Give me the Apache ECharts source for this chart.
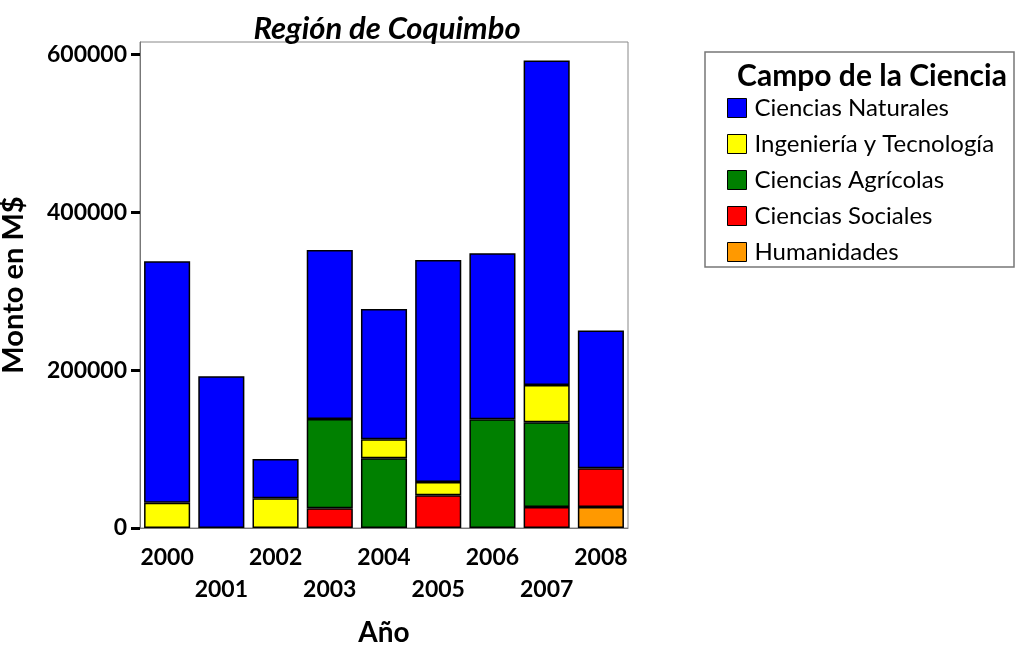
<!DOCTYPE html>
<html>
<head>
<meta charset="utf-8">
<script src="https://cdn.jsdelivr.net/npm/echarts@6/dist/echarts.min.js"></script>
<style>
  html, body { margin: 0; padding: 0; background: #fff; }
  #chart { width: 1016px; height: 646px; }
</style>
</head>
<body>
<div id="chart"></div>
<script>
// años y montos (M$) por campo
const years = ['2000', '2001', '2002', '2003', '2004', '2005', '2006', '2007', '2008']
const humanidades = [0, 0, 0, 0, 0, 0, 0, 0, 26600]
const sociales = [0, 0, 0, 25000, 0, 41400, 0, 26600, 49100]
const agricolas = [0, 0, 0, 113200, 88400, 0, 137800, 107400, 0]
const ingenieria = [32000, 0, 37700, 0, 24100, 16900, 0, 47300, 0]
const naturales = [306000, 192400, 49800, 214300, 165200, 281500, 210500, 411300, 174500]
const yTicks = [0, 200000, 400000, 600000]

const FONT = 'Lato'

const fields = [
  { name: 'Humanidades', data: humanidades, color: '#ff9900' },
  { name: 'Ciencias Sociales', data: sociales, color: '#ff0000' },
  { name: 'Ciencias Agrícolas', data: agricolas, color: '#008000' },
  { name: 'Ingeniería y Tecnología', data: ingenieria, color: '#ffff00' },
  { name: 'Ciencias Naturales', data: naturales, color: '#0000ff' }
]

const chart = echarts.init(document.getElementById('chart'))

chart.setOption({
  animation: false,
  textStyle: { fontFamily: FONT },
  title: [
    {
      text: 'Región de Coquimbo',
      left: 382,
      top: 8,
      textAlign: 'center',
      textStyle: { fontSize: 31, fontWeight: 'bold', fontStyle: 'italic', color: '#000', fontFamily: FONT }
    },
    {
      text: 'Campo de la Ciencia',
      left: 867,
      top: 56,
      textAlign: 'center',
      textStyle: { fontSize: 30, fontWeight: 'bold', color: '#000', fontFamily: FONT }
    }
  ],
  graphic: [
    {
      type: 'rect',
      shape: { x: 705, y: 52, width: 309, height: 215 },
      style: { fill: 'none', stroke: '#777', lineWidth: 1.5 }
    }
  ],
  legend: {
    orient: 'vertical',
    left: 722,
    top: 91,
    itemWidth: 19,
    itemHeight: 19,
    itemGap: 12,
    icon: 'rect',
    data: fields.map(f => f.name).reverse(),
    itemStyle: { borderColor: '#000', borderWidth: 1 },
    textStyle: { fontSize: 24, color: '#000', fontFamily: FONT, padding: [0, 0, 0, 3] }
  },
  grid: {
    left: 140,
    right: 388,
    top: 42,
    bottom: 118,
    outerBoundsMode: 'none',
    containLabel: false,
    show: true,
    borderColor: '#888',
    borderWidth: 1
  },
  xAxis: {
    type: 'category',
    data: years,
    name: 'Año',
    nameLocation: 'middle',
    nameGap: 91,
    nameTextStyle: { fontSize: 28, fontWeight: 'bold', color: '#000' },
    axisLine: { lineStyle: { color: '#777', width: 1 } },
    axisTick: { alignWithLabel: true, length: 9, lineStyle: { color: '#000', width: 3 } },
    axisLabel: {
      interval: 0,
      margin: 14,
      fontSize: 23,
      fontWeight: 'bold',
      color: '#000',
      lineHeight: 32,
      formatter: (v, i) => (i % 2 ? '\n' + v : v)
    }
  },
  yAxis: {
    type: 'value',
    min: 0,
    max: 616000,
    interval: 200000,
    name: 'Monto en M$',
    nameLocation: 'middle',
    nameGap: 112,
    nameTextStyle: { fontSize: 29, fontWeight: 'bold', color: '#000' },
    splitLine: { show: false },
    axisLine: { show: true, lineStyle: { color: '#777', width: 1 } },
    axisTick: { show: true, length: 9, customValues: yTicks, lineStyle: { color: '#000', width: 3 } },
    axisLabel: {
      margin: 13,
      fontSize: 23,
      fontWeight: 'bold',
      color: '#000',
      customValues: yTicks,
      formatter: v => String(v)
    }
  },
  series: fields.map(f => ({
    name: f.name,
    type: 'bar',
    stack: 'total',
    barCategoryGap: '15%',
    data: f.data.map(v => (v ? v : '-')),
    itemStyle: { color: f.color, borderColor: '#000', borderWidth: 1.5 }
  }))
})
</script>
</body>
</html>
